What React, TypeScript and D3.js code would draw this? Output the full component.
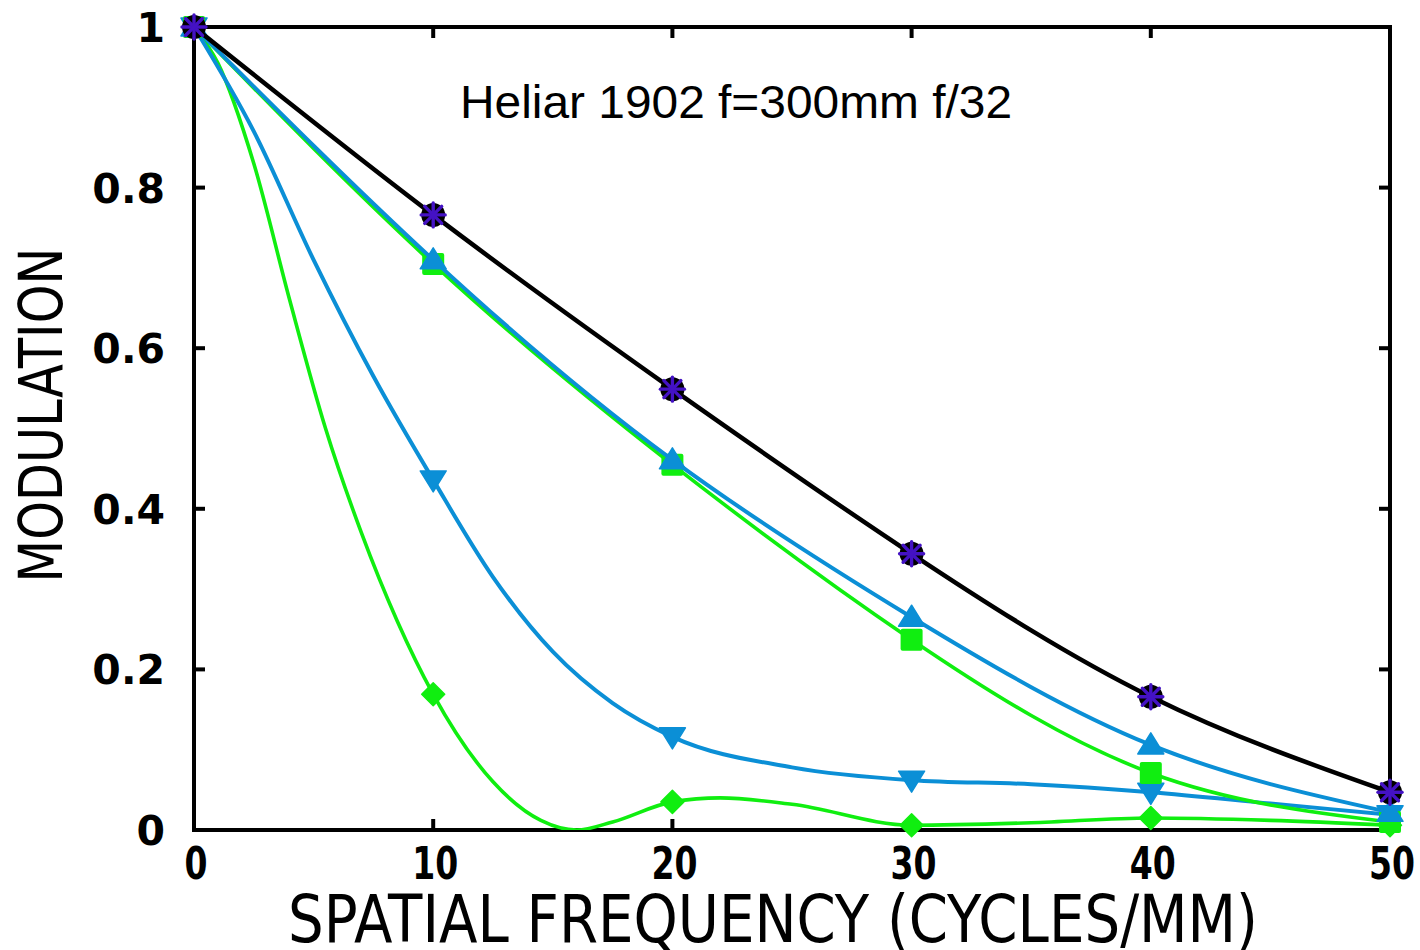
import React from "react";
import * as d3 from "d3";

// marker positions
const freqs = [0, 10, 20, 30, 40, 50];
const diffraction = [1, 0.766, 0.549, 0.344, 0.166, 0.047];
const onAxisBlue = [1, 0.71, 0.461, 0.265, 0.106, 0.022];
const onAxisGreen = [1, 0.705, 0.455, 0.237, 0.071, 0.01];
const offAxisBlue = [1, 0.436, 0.116, 0.062, 0.047, 0.019];
const offAxisGreen = [1, 0.169, 0.035, 0.006, 0.015, 0.006];

// curves read more densely off the picture for the off-axis series
const offAxisBlueCurveF = [0, 2.5, 5, 7.5, 10, 12.5, 15, 17.5, 20, 25, 30, 35, 40, 45, 50];
const offAxisBlueCurveV = [1, 0.87, 0.71, 0.565, 0.436, 0.315, 0.222, 0.158, 0.116, 0.078, 0.062, 0.057, 0.047, 0.033, 0.019];
const offAxisGreenCurveF = [0, 1, 2.5, 4, 5.5, 7, 8.5, 10, 12.5, 14.5, 16, 17.5, 20, 22, 25, 30, 35, 40, 45, 50];
const offAxisGreenCurveV = [1, 0.955, 0.83, 0.66, 0.5, 0.37, 0.26, 0.169, 0.06, 0.012, 0.0, 0.01, 0.035, 0.04, 0.032, 0.006, 0.009, 0.015, 0.012, 0.006];

const xTicks = [0, 10, 20, 30, 40, 50];
const yTicks = [0, 0.2, 0.4, 0.6, 0.8, 1];
const yTickLabels = ["0", "0.2", "0.4", "0.6", "0.8", "1"];

const BLUE = "#0b8fd6";
const GREEN = "#10ee10";
const PURPLE = "#4412c4";

const W = 1420, H = 950;
const L = 194, R = 1390, T = 27, B = 830;

export default function App() {
  const x = d3.scaleLinear().domain([0, 50]).range([L, R]);
  const y = d3.scaleLinear().domain([0, 1]).range([B, T]);
  const line = d3
    .line<[number, number]>()
    .x((d) => x(d[0]))
    .y((d) => y(d[1]))
    .curve(d3.curveNatural);
  const lineDense = d3
    .line<[number, number]>()
    .x((d) => x(d[0]))
    .y((d) => y(d[1]))
    .curve(d3.curveMonotoneX);
  const pts = (v: number[]) => freqs.map((f, i) => [f, v[i]] as [number, number]);
  const zipPts = (f: number[], v: number[]) => f.map((a, i) => [a, v[i]] as [number, number]);

  const tri = (cx: number, cy: number, up: boolean, c: string, k: string) => {
    const w = 13, h = 12;
    const p = up
      ? `M${cx},${cy - h} L${cx + w},${cy + h * 0.75} L${cx - w},${cy + h * 0.75} Z`
      : `M${cx},${cy + h} L${cx + w},${cy - h * 0.75} L${cx - w},${cy - h * 0.75} Z`;
    return <path key={k} d={p} fill={c} stroke={c} strokeWidth={1.5} strokeLinejoin="round" />;
  };

  const series = [
    { v: offAxisGreen, curve: zipPts(offAxisGreenCurveF, offAxisGreenCurveV), dense: true, c: GREEN, w: 3.6, m: "diamond" },
    { v: offAxisBlue, curve: zipPts(offAxisBlueCurveF, offAxisBlueCurveV), dense: true, c: BLUE, w: 4, m: "down" },
    { v: onAxisGreen, curve: pts(onAxisGreen), dense: false, c: GREEN, w: 3.6, m: "square" },
    { v: onAxisBlue, curve: pts(onAxisBlue), dense: false, c: BLUE, w: 4, m: "up" },
    { v: diffraction, curve: pts(diffraction), dense: false, c: "#000", w: 4.5, m: "star" },
  ];

  return (
    <svg width={W} height={H} style={{ position: "absolute", left: 0, top: 0, background: "#fff" }}>
      <defs>
        <clipPath id="plot">
          <rect x={L} y={T - 2} width={R - L} height={B - T + 2} />
        </clipPath>
      </defs>
      <rect x={0} y={0} width={W} height={H} fill="#fff" />
      {xTicks.map((t) => (
        <g key={"xt" + t}>
          <line x1={x(t)} x2={x(t)} y1={B} y2={B - 11} stroke="#000" strokeWidth={4} />
          <line x1={x(t)} x2={x(t)} y1={T} y2={T + 11} stroke="#000" strokeWidth={4} />
        </g>
      ))}
      {yTicks.map((t) => (
        <g key={"yt" + t}>
          <line x1={L} x2={L + 11} y1={y(t)} y2={y(t)} stroke="#000" strokeWidth={4} />
          <line x1={R} x2={R - 11} y1={y(t)} y2={y(t)} stroke="#000" strokeWidth={4} />
        </g>
      ))}
      <rect x={L} y={T} width={R - L} height={B - T} fill="none" stroke="#000" strokeWidth={4} />

      {series.map((s, si) => (
        <g key={"s" + si}>
          <path d={(s.dense ? lineDense(s.curve) : line(s.curve)) || ""} fill="none" stroke={s.c}
            strokeWidth={s.w} clipPath="url(#plot)" />
          {pts(s.v).map(([f, v], i) => {
            const cx = x(f), cy = y(v), k = `m${si}-${i}`;
            if (s.m === "diamond")
              return (
                <path key={k} d={`M${cx},${cy - 11.5} L${cx + 11.5},${cy} L${cx},${cy + 11.5} L${cx - 11.5},${cy} Z`}
                  fill={s.c} stroke={s.c} strokeWidth={1.5} strokeLinejoin="round" />
              );
            if (s.m === "square")
              return <rect key={k} x={cx - 11} y={cy - 11} width={22} height={22} rx={2} fill={s.c} />;
            if (s.m === "up") return tri(cx, cy, true, s.c, k);
            if (s.m === "down") return tri(cx, cy, false, s.c, k);
            const r = 12;
            return (
              <g key={k}>
                <circle cx={cx} cy={cy} r={r} fill="#000" />
                {[0, 45, 90, 135].map((a) => {
                  const rad = (a * Math.PI) / 180;
                  return (
                    <line key={a} x1={cx - r * Math.cos(rad)} y1={cy - r * Math.sin(rad)}
                      x2={cx + r * Math.cos(rad)} y2={cy + r * Math.sin(rad)}
                      stroke={PURPLE} strokeWidth={3.4} strokeLinecap="round" />
                  );
                })}
              </g>
            );
          })}
        </g>
      ))}

      {yTicks.map((t, i) => (
        <text key={"yl" + t} x={165} y={y(t) + 15} textAnchor="end"
          fontFamily="DejaVu Sans" fontWeight="bold" fontSize={41} fill="#000">
          {yTickLabels[i]}
        </text>
      ))}
      {xTicks.map((t) => {
        const s = String(t);
        return (
          <text key={"xl" + t} x={x(t) + 2} y={879} textAnchor="middle"
            fontFamily="DejaVu Sans" fontWeight="bold" fontSize={44} fill="#000"
            textLength={s.length * 23} lengthAdjust="spacingAndGlyphs">
            {s}
          </text>
        );
      })}

      <text x={773} y={942} textAnchor="middle" fontFamily="DejaVu Sans" fontSize={65}
        textLength={970} lengthAdjust="spacingAndGlyphs" fill="#000">
        SPATIAL FREQUENCY (CYCLES/MM)
      </text>
      <text transform="translate(62,415) rotate(-90)" textAnchor="middle" fontFamily="DejaVu Sans"
        fontSize={60} textLength={335} lengthAdjust="spacingAndGlyphs" fill="#000">
        MODULATION
      </text>

      <text x={460} y={118} fontFamily="Liberation Sans" fontSize={47} fill="#000"
        textLength={552} lengthAdjust="spacingAndGlyphs">
        Heliar 1902 f=300mm f/32
      </text>
    </svg>
  );
}
